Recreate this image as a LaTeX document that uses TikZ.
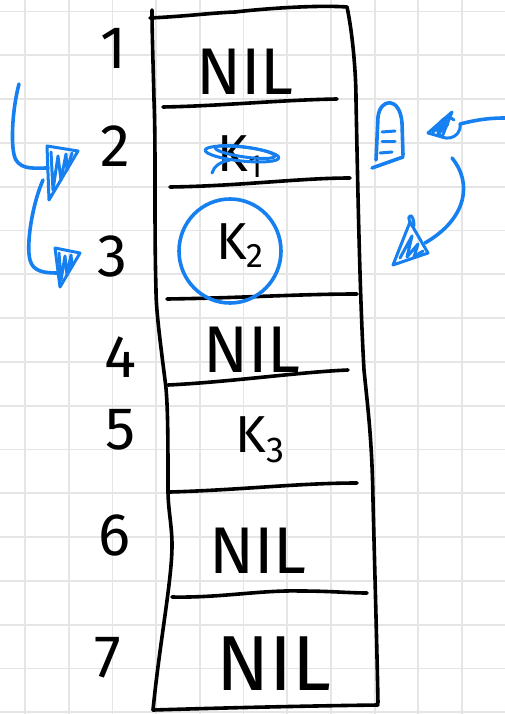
\documentclass[tikz,border=0pt]{standalone}
\usepackage{fontspec}
\setmainfont{Fira Sans}
\definecolor{pen}{RGB}{22,128,240}
\definecolor{gridc}{RGB}{229,229,229}
\begin{document}
\begin{tikzpicture}[x=1pt,y=-1pt,
  ink/.style={line width=3.6pt, line cap=round, line join=round, draw=black},
  blueink/.style={line width=3.6pt, line cap=round, line join=round, draw=pen},
  num/.style={font=\fontsize{60}{60}\selectfont, inner sep=0pt, anchor=center},
  cell/.style={font=\fontsize{66}{66}\selectfont, inner sep=0pt, anchor=center},
  keyc/.style={font=\fontsize{52}{52}\selectfont, inner sep=0pt, anchor=center},
  ]
\useasboundingbox (0,0) rectangle (505,714);
\fill[white] (0,0) rectangle (505,714);
% grid paper
\foreach \i in {0,...,11} \draw[gridc, line width=1.8pt] ({25+43.7*\i},0) -- ({25+43.7*\i},714);
\foreach \j in {0,...,16} \draw[gridc, line width=1.8pt] (0,{11.5+43.8*\j}) -- (505,{11.5+43.8*\j});

% table outline
\draw[ink] (150,18) .. controls (190,16) and (210,13) .. (235,12) .. controls (270,8) and (320,5) .. (347,7);
\draw[ink] (347,7) .. controls (352,30) and (356,70) .. (356,100) .. controls (358,200) and (360,300) .. (364,370)
  .. controls (368,410) and (372,440) .. (373,500) .. controls (375,580) and (377,650) .. (378,703);
\draw[ink] (378,705) .. controls (300,706) and (220,708) .. (153,710);
\draw[ink] (153,710) .. controls (160,640) and (172,580) .. (172,545) .. controls (172,525) and (168,510) .. (168,490)
  .. controls (168,440) and (168,400) .. (165,380) .. controls (160,340) and (156,310) .. (156,290)
  .. controls (154,220) and (156,150) .. (154,100) .. controls (153,60) and (152,30) .. (152,10);

% dividers
\draw[ink] (163,107) .. controls (220,106) and (280,100) .. (337,99);
\draw[ink] (170,187) .. controls (240,186) and (300,178) .. (350,178);
\draw[ink] (167,299) .. controls (240,298) and (300,294) .. (357,294);
\draw[ink] (168,385) .. controls (230,382) and (300,372) .. (348,370);
\draw[ink] (170,492) .. controls (240,490) and (300,483) .. (357,483);
\draw[ink] (172,597) .. controls (220,598) and (260,590) .. (300,591) .. controls (330,591) and (350,593) .. (367,593);

% row numbers
\node[num] (r1) at (113,48) {1};
\node[num] (r2) at (115,146) {2};
\node[num] (r3) at (112,256) {3};
\node[num] (r4) at (120,357) {4};
\node[num] (r5) at (121,430) {5};
\node[num] (r6) at (114,535) {6};
\node[num] (r7) at (108,658) {7};

% cell contents
\node[cell] (c1) at (245,72) {NIL};
\node[keyc] (c2) at (240,157) {K\raisebox{-6pt}{\fontsize{32}{32}\selectfont 1}};
\node[keyc] (c3) at (240,246) {K\raisebox{-8pt}{\fontsize{34}{34}\selectfont 2}};
\node[cell] (c4) at (252,350) {NIL};
\node[keyc] (c5) at (260,440) {K\raisebox{-10pt}{\fontsize{36}{36}\selectfont 3}};
\node[cell] (c6) at (258,551) {NIL};
\node[cell, font=\fontsize{78}{78}\selectfont] (c7) at (274,664) {NIL};

% blue: strike-through of K1
\draw[blueink, line width=3pt] (242,154) ellipse [x radius=37, y radius=7, rotate=-6];
\draw[blueink, line width=3pt] (245,152) ellipse [x radius=30, y radius=5, rotate=-8];
\draw[blueink, line width=3pt] (212,173) .. controls (214,166) and (220,162) .. (230,160);

% blue: circle round K2
\draw[blueink] (230,251) ellipse [x radius=51, y radius=52];

% blue: left arrows
\draw[blueink] (19,84) .. controls (12,110) and (10,150) .. (16,160) .. controls (22,170) and (35,168) .. (48,168);
\draw[blueink, line width=3pt] (47,146) -- (78,151) -- (49,200) -- cycle;
\draw[blueink, line width=3pt] (51,152) -- (53,190) -- (58,156) -- (61,180) -- (66,154) -- (67,170) -- (72,153);
\draw[blueink] (43,180) .. controls (32,205) and (26,245) .. (30,260) .. controls (33,272) and (45,273) .. (58,273);
\draw[blueink, line width=3pt] (55,248) -- (80,253) -- (60,287) -- cycle;
\draw[blueink, line width=3pt] (59,253) -- (61,280) -- (65,256) -- (67,275) -- (71,255) -- (72,266);

% blue: right side
\draw[blueink] (376,160) -- (378,117) .. controls (380,98) and (400,96) .. (402,123) -- (403,155);
\draw[blueink] (372,168) -- (403,157);
\draw[blueink, line width=3pt] (382,132) -- (395,131);
\draw[blueink, line width=3pt] (382,142) -- (395,142);
\draw[blueink, line width=3pt] (380,153) -- (392,152);

\draw[blueink] (505,118) .. controls (485,118) and (472,121) .. (460,124);
\draw[blueink, line width=3pt] (460,124) .. controls (462,140) and (440,142) .. (438,132) .. controls (436,121) and (448,114) .. (454,120);
\draw[blueink, line width=3pt] (428,133) -- (452,112) -- (442,137) -- cycle;
\draw[blueink, line width=3pt] (433,132) -- (446,120) -- (438,134) -- (448,124);

\draw[blueink] (452,158) .. controls (472,182) and (468,218) .. (425,243);
\draw[blueink, line width=3pt] (393,265) -- (410,222) -- (428,253) -- cycle;
\draw[blueink, line width=3pt] (410,222) .. controls (406,214) and (414,212) .. (414,226);
\draw[blueink, line width=3pt] (400,258) -- (412,236) -- (407,257) -- (418,244) -- (414,257) -- (423,251);
\end{tikzpicture}
\end{document}
